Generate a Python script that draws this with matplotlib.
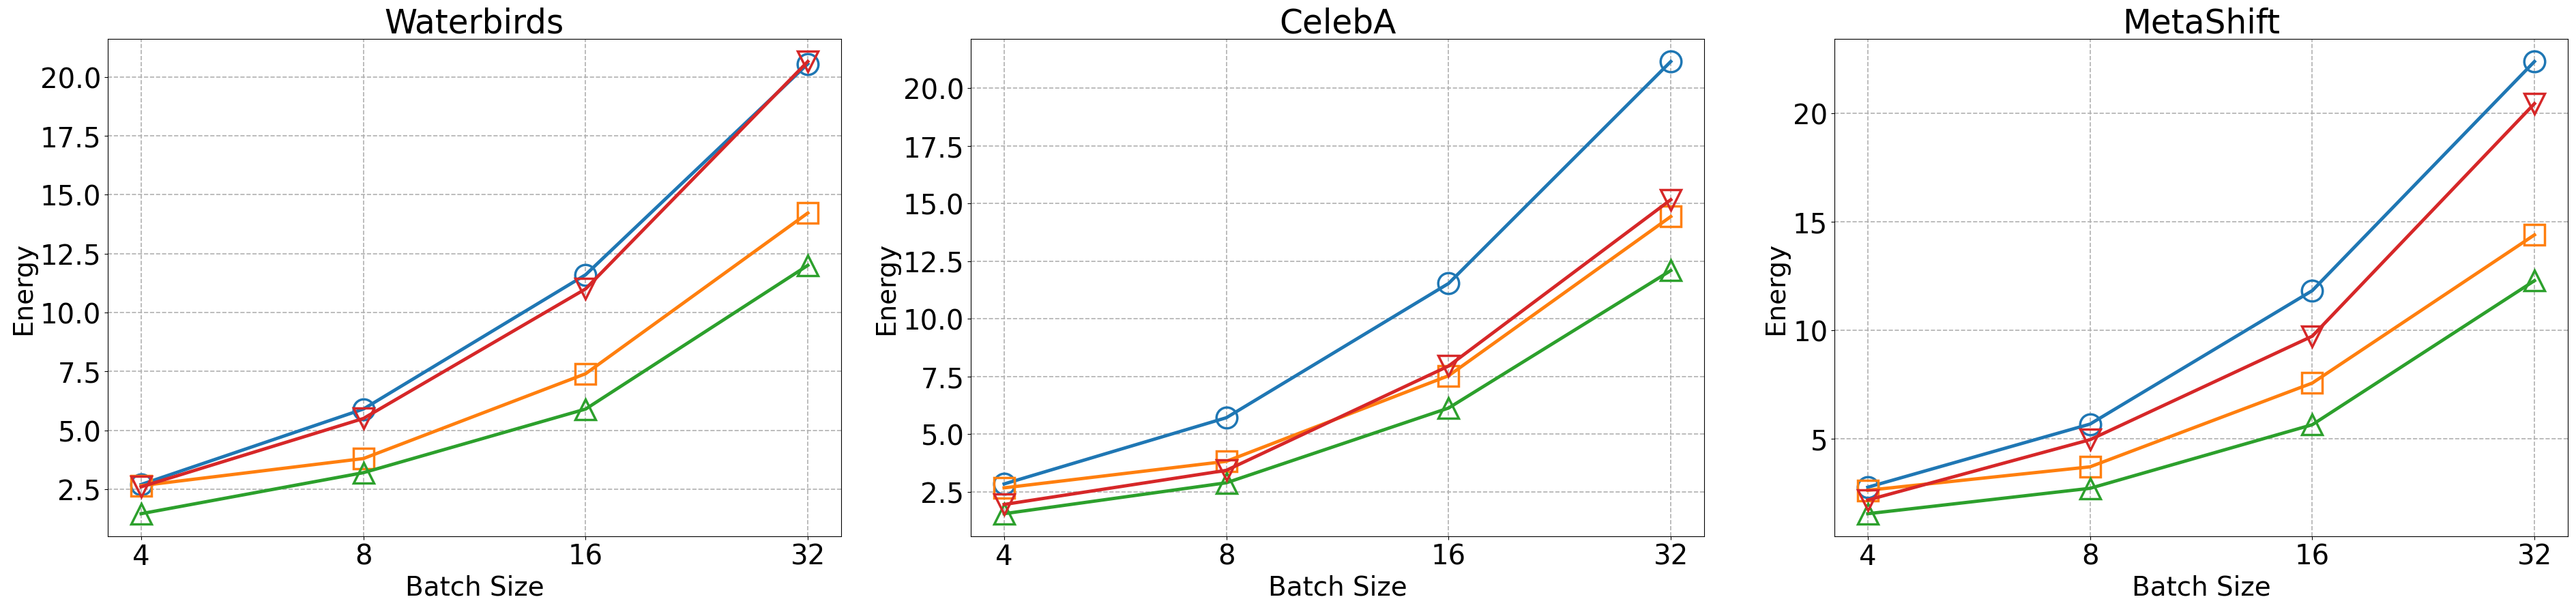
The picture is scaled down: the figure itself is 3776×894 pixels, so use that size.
import matplotlib
matplotlib.use("Agg")
import matplotlib.pyplot as plt
import numpy as np

batch_sizes = ["4", "8", "16", "32"]
titles = ["Waterbirds", "CelebA", "MetaShift"]

# one list per method, one row per dataset
blue_vals = [[2.7, 5.9, 11.6, 20.55],
             [2.84, 5.71, 11.53, 21.15],
             [2.77, 5.68, 11.83, 22.39]]
orange_vals = [[2.65, 3.8, 7.4, 14.22],
               [2.67, 3.82, 7.53, 14.43],
               [2.63, 3.71, 7.57, 14.4]]
green_vals = [[1.46, 3.2, 5.9, 12.0],
              [1.55, 2.89, 6.13, 12.09],
              [1.55, 2.72, 5.65, 12.29]]
red_vals = [[2.6, 5.5, 11.0, 20.65],
            [1.95, 3.43, 7.95, 15.16],
            [2.18, 4.96, 9.73, 20.45]]

fig = plt.figure(figsize=(37.76, 8.95), dpi=100)
lefts = [158 / 3776, 1423 / 3776, 2689 / 3776]
x = np.arange(len(batch_sizes))

for i in range(3):
    ax = fig.add_axes([lefts[i], 1 - 787 / 895, 1075 / 3776, 729 / 895])
    ax.plot(x, blue_vals[i], color="tab:blue", marker="o", mfc="none",
            ms=22, mew=2.5, lw=3.5)
    ax.plot(x, orange_vals[i], color="tab:orange", marker="s", mfc="none",
            ms=22, mew=2.5, lw=3.5)
    ax.plot(x, green_vals[i], color="tab:green", marker="^", mfc="none",
            ms=22, mew=2.5, lw=3.5)
    ax.plot(x, red_vals[i], color="tab:red", marker="v", mfc="none",
            ms=22, mew=2.5, lw=3.5)
    ax.set_xticks(x)
    ax.set_xticklabels(batch_sizes)
    ax.tick_params(labelsize=29)
    ax.set_xlabel("Batch Size", fontsize=28)
    ax.set_ylabel("Energy", fontsize=28)
    ax.set_title(titles[i], fontsize=35)
    ax.grid(True, linestyle="--", color="#b0b0b0", lw=1.2)

fig.savefig("out.png", dpi=100)
